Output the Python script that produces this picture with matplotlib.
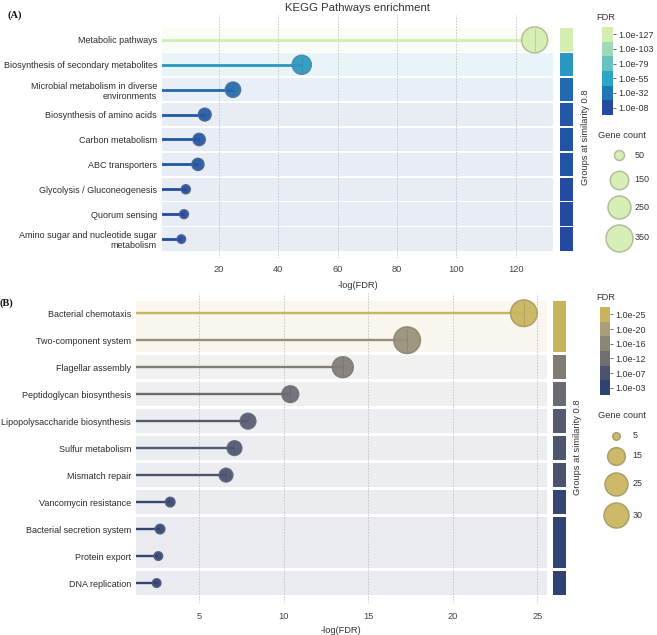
import numpy as np
import matplotlib
matplotlib.use("Agg")
import matplotlib.pyplot as plt
from matplotlib.colors import LinearSegmentedColormap, ListedColormap, to_rgb
from matplotlib.patches import Rectangle

plt.rcParams['font.family'] = ['Liberation Sans', 'DejaVu Sans']

# ---------------- data ----------------
a_terms = ["Metabolic pathways", "Biosynthesis of secondary metabolites",
           "Microbial metabolism in diverse\nenvironments", "Biosynthesis of amino acids",
           "Carbon metabolism", "ABC transporters", "Glycolysis / Gluconeogenesis",
           "Quorum sensing", "Amino sugar and nucleotide sugar\nmetabolism"]
a_neglog = [126.4, 47.9, 24.7, 15.2, 13.3, 12.9, 8.8, 8.2, 7.3]
a_counts = [325, 163, 112, 82, 77, 74, 45, 44, 42]
a_groups = [0, 1, 2, 3, 4, 5, 6, 7, 8]
a_fdr_ticks = [127, 103, 79, 55, 32, 8]
a_size_legend = [50, 150, 250, 350]
a_xticks = [20, 40, 60, 80, 100, 120]

b_terms = ["Bacterial chemotaxis", "Two-component system", "Flagellar assembly",
           "Peptidoglycan biosynthesis", "Lipopolysaccharide biosynthesis",
           "Sulfur metabolism", "Mismatch repair", "Vancomycin resistance",
           "Bacterial secretion system", "Protein export", "DNA replication"]
b_neglog = [24.2, 17.3, 13.5, 10.4, 7.9, 7.1, 6.6, 3.3, 2.7, 2.6, 2.5]
b_counts = [34, 34, 21, 14, 13, 12, 11, 7, 7, 6, 6]
b_groups = [0, 0, 1, 2, 3, 4, 5, 6, 7, 7, 8]
b_fdr_ticks = [25, 20, 16, 12, 7, 3]
b_size_legend = [5, 15, 25, 30]
b_xticks = [5, 10, 15, 20, 25]

# ---------------- styles ----------------
A_pal = ["#2349a0", "#1f78b4", "#2ca5c7", "#65c2bf", "#a0d9b9", "#d4edb0"]
B_pal = ["#2f4373", "#4c5370", "#6f6f72", "#8b8775", "#a99e78", "#c8b45c"]
A_sref = ([0, 50, 150, 250, 350], [0, 10, 18.5, 23, 27])
B_sref = ([0, 5, 15, 25, 30], [0, 7.5, 17.7, 23, 25])
FS = 6.5

W, H = 657, 635
fig = plt.figure(figsize=(W / 100, H / 100), dpi=100)


def px_axes(l, t, r, b):
    return fig.add_axes([l / W, 1 - b / H, (r - l) / W, (b - t) / H])


def diam(c, ref):
    xs, ys = ref
    if c > xs[-1]:
        slope = (ys[-1] - ys[-2]) / (xs[-1] - xs[-2])
        return ys[-1] + slope * (c - xs[-1])
    return float(np.interp(c, xs, ys))


def blend(c, other, t):
    c = np.array(to_rgb(c)); o = np.array(to_rgb(other))
    return tuple(c * (1 - t) + o * t)


def draw_panel(ax, gax, terms, vals, counts, groups, pal, sref,
               xlim, ylim, xticks, half, lw, xpad):
    cmap = LinearSegmentedColormap.from_list('c', pal)
    vals = np.array(vals, float)
    norm = plt.Normalize(vals.min(), vals.max())
    groups = np.array(groups)
    n = len(terms)
    y = np.arange(n)
    ax.set_xlim(xlim); ax.set_ylim(ylim)
    gax.set_xlim(0, 1); gax.set_ylim(ylim)
    for g in np.unique(groups):
        idx = np.where(groups == g)[0]
        col = cmap(norm(vals[idx].max()))
        y0 = idx.min() - half; y1 = idx.max() + half
        ax.add_patch(Rectangle((xlim[0], y0), xlim[1] - xlim[0], y1 - y0,
                               facecolor=col, alpha=0.1, lw=0, zorder=0))
        gax.add_patch(Rectangle((0, y0), 1, y1 - y0, facecolor=col, lw=0))
    ax.set_xticks(xticks)
    ax.set_axisbelow('line')
    ax.grid(axis='x', ls=(0, (1.5, 1.5)), color='#c4c4c4', lw=0.7)
    cols = [cmap(norm(v)) for v in vals]
    ax.hlines(y, 0, vals, colors=cols, lw=lw, zorder=2)
    d = np.array([diam(c, sref) for c in counts])
    edges = [blend(c, '#7a7a7a', 0.45) for c in cols]
    ax.scatter(vals, y, s=(d * 0.72) ** 2, c=cols, edgecolors=edges,
               linewidths=1.1, zorder=3, alpha=0.92)
    ax.scatter(vals, y, marker='|', s=(d * 0.72 * 0.85) ** 2,
               c=[blend(c, '#555555', 0.5) for c in cols], linewidths=0.5,
               zorder=4, alpha=0.6)
    ax.set_yticks(y)
    ax.set_yticklabels(terms)
    ax.tick_params(axis='y', length=0, pad=3.6, labelsize=FS, labelcolor='#2b2b2b')
    ax.tick_params(axis='x', length=0, pad=xpad, labelsize=6.7, labelcolor='#444444')
    for s in ax.spines.values():
        s.set_visible(False)
    gax.axis('off')
    return cmap


def colorbar(l, t, r, b, pal, ticks):
    cax = px_axes(l, t, r, b)
    arr = np.arange(len(pal))[::-1].reshape(-1, 1)
    cax.imshow(arr, cmap=ListedColormap(pal), aspect='auto', interpolation='nearest')
    cax.set_xticks([])
    cax.yaxis.tick_right()
    cax.set_yticks(range(len(ticks)))
    cax.set_yticklabels([f"1.0e-{v:02d}" for v in ticks])
    cax.tick_params(axis='y', length=2, width=0.6, color='#555555', pad=1.5,
                    labelsize=FS, labelcolor='#333333')
    for s in cax.spines.values():
        s.set_visible(False)


# ---------------- panel A ----------------
axA = px_axes(162, 15, 553, 258)
gA = px_axes(560, 15, 573, 258)
cmA = draw_panel(axA, gA, a_terms, a_neglog, a_counts, a_groups,
                 A_pal, A_sref, (0.78, 132.6), (8.76, -1.0), a_xticks, 0.47, 2.0, 5)
axA.set_xlabel("-log(FDR)", fontsize=6.7, color='#333333', labelpad=5.0)
axA.set_title("KEGG Pathways enrichment", fontsize=8.2, color='#333333', pad=3)
colorbar(602, 27, 613, 115, A_pal, a_fdr_ticks)

# ---------------- panel B ----------------
axB = px_axes(136, 293, 546.7, 603)
gB = px_axes(553, 293, 566, 603)
cmB = draw_panel(axB, gB, b_terms, b_neglog, b_counts, b_groups,
                 B_pal, B_sref, (1.28, 25.55), (10.74, -0.75), b_xticks, 0.44, 1.7, 6.5)
axB.set_xlabel("-log(FDR)", fontsize=6.7, color='#333333', labelpad=3.5)
colorbar(600, 307, 610, 395, B_pal, b_fdr_ticks)

# ---------------- overlay (legends, labels) ----------------
ov = fig.add_axes([0, 0, 1, 1])
ov.set_xlim(0, W); ov.set_ylim(H, 0)
ov.axis('off')
ov.patch.set_visible(False)

ov.text(7, 15, "(A)", fontsize=7.5, fontweight='bold', family='Liberation Serif',
        va='center', ha='left', color='#111111')
ov.text(0, 303, "(B)", fontsize=7.5, fontweight='bold', family='Liberation Serif',
        va='center', ha='left', color='#111111')

ov.text(596, 17, "FDR", fontsize=6.7, color='#333333', va='center', ha='left')
ov.text(596, 297.5, "FDR", fontsize=6.7, color='#333333', va='center', ha='left')

ov.text(585, 137, "Groups at similarity 0.8", rotation=90, fontsize=6.7,
        color='#333333', va='center', ha='center')
ov.text(577, 447, "Groups at similarity 0.8", rotation=90, fontsize=6.7,
        color='#333333', va='center', ha='center')

# size legends
ov.text(598, 135, "Gene count", fontsize=6.7, color='#333333', va='center', ha='left')
a_leg_y = [155, 179.5, 207, 238]
for c, yy in zip(a_size_legend, a_leg_y):
    d = diam(c, A_sref)
    col = cmA(1.0)
    ov.scatter([619], [yy], s=(d * 0.72) ** 2, color=col,
               edgecolors=[blend(col, '#7a7a7a', 0.45)], linewidths=1.1, alpha=0.92)
    ov.text(634.5, yy, str(c), fontsize=FS, color='#333333', va='center', ha='left')

ov.text(598, 416, "Gene count", fontsize=6.7, color='#333333', va='center', ha='left')
b_leg_y = [435.7, 456, 484, 515]
for c, yy in zip(b_size_legend, b_leg_y):
    d = diam(c, B_sref)
    col = cmB(1.0)
    ov.scatter([615.7], [yy], s=(d * 0.72) ** 2, color=col,
               edgecolors=[blend(col, '#7a7a7a', 0.45)], linewidths=1.1, alpha=0.92)
    ov.text(632.5, yy, str(c), fontsize=FS, color='#333333', va='center', ha='left')

fig.savefig("out.png", dpi=100)
